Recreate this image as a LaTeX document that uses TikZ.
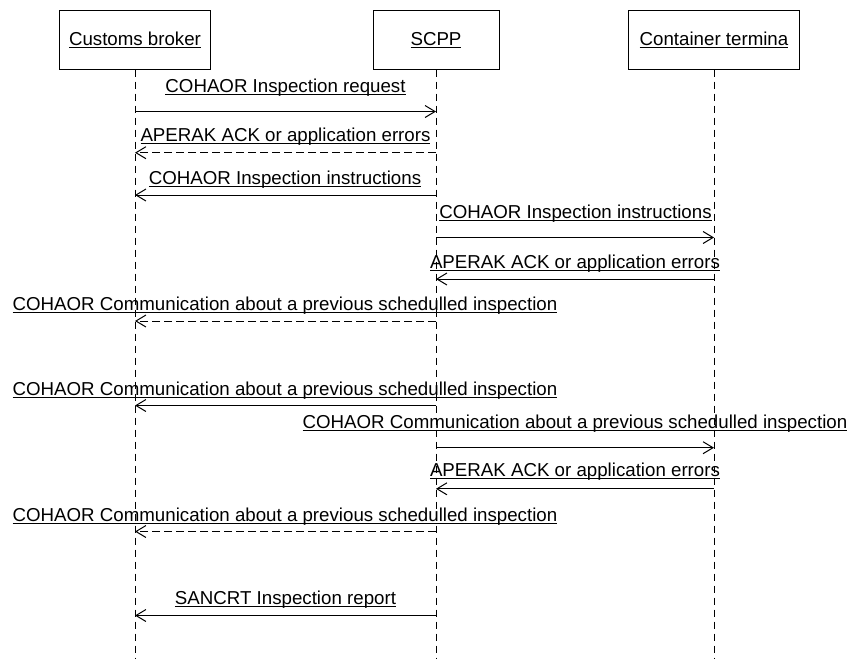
\documentclass[tikz,border=0pt]{standalone}
\usepackage{fontspec}
\setmainfont{Liberation Sans}
\usetikzlibrary{arrows.meta}
\newcommand{\ulx}[1]{{\setbox0\hbox{#1}\rlap{\rule[-2.9pt]{\wd0}{1.2pt}}\box0}}
\begin{document}
\begin{tikzpicture}[x=1pt,y=-1pt,line width=1pt,
  actorbox/.style={draw=black, fill=white, inner sep=0pt, minimum height=59pt},
  txt/.style={inner sep=0pt, anchor=base, font=\fontsize{18.7pt}{22pt}\selectfont},
  lifeline/.style={draw=black, line width=0.9pt, dash pattern=on 7pt off 5pt},
  msg/.style={draw=black, line width=1pt, -{Straight Barb[length=10pt,width=12pt,line width=1pt]}},
  reply/.style={msg, dash pattern=on 8pt off 4pt}]
\useasboundingbox (0,0) rectangle (849,659);
% actors
\node[actorbox, minimum width=151.4pt] (cb) at (135,39.5) {};
\node[actorbox, minimum width=126pt] (sc) at (436,39.5) {};
\node[actorbox, minimum width=171.7pt] (ct) at (714,39.5) {};
\node[txt] (cbt) at (135,45.2) {\ulx{Customs broker}};
\node[txt] (sct) at (436,45.2) {\ulx{SCPP}};
\node[txt] (ctt) at (714,45.2) {\ulx{Container termina}};
% lifelines
\coordinate (cbE) at (135,659);
\coordinate (scE) at (436,659);
\coordinate (ctE) at (714,659);
\draw[lifeline] (cb.south) -- (cbE);
\draw[lifeline] (sc.south) -- (scE);
\draw[lifeline] (ct.south) -- (ctE);
% message end points
\coordinate (L1) at (135,111.5); \coordinate (S1) at (436,111.5);
\coordinate (L2) at (135,152.7); \coordinate (S2) at (436,152.7);
\coordinate (L3) at (135,195);   \coordinate (S3) at (436,195);
\coordinate (S4) at (436,237.5); \coordinate (C4) at (714,237.5);
\coordinate (S5) at (436,279);   \coordinate (C5) at (714,279);
\coordinate (L6) at (135,321);   \coordinate (S6) at (436,321);
\coordinate (L7) at (135,405.5); \coordinate (S7) at (436,405.5);
\coordinate (S8) at (436,447.7); \coordinate (C8) at (714,447.7);
\coordinate (S9) at (436,488.8); \coordinate (C9) at (714,488.8);
\coordinate (L10) at (135,531.5);  \coordinate (S10) at (436,531.5);
\coordinate (L11) at (135,615.5);  \coordinate (S11) at (436,615.5);
% messages
\draw[msg] (L1) -- (S1);
\node[txt] (t1) at (285.5,92.5) {\ulx{COHAOR Inspection request}};
\draw[reply] (S2) -- (L2);
\node[txt] (t2) at (285.5,141.5) {\ulx{APERAK ACK or application errors}};
\draw[msg] (S3) -- (L3);
\node[txt] (t3) at (285,184.5) {\ulx{COHAOR Inspection instructions}};
\draw[msg] (S4) -- (C4);
\node[txt] (t4) at (575.5,218.5) {\ulx{COHAOR Inspection instructions}};
\draw[msg] (C5) -- (S5);
\node[txt] (t5) at (575,268.5) {\ulx{APERAK ACK or application errors}};
\draw[reply] (S6) -- (L6);
\node[txt] (t6) at (285,310.5) {\ulx{COHAOR Communication about a previous schedulled inspection}};
\draw[msg] (S7) -- (L7);
\node[txt] (t7) at (285,395.5) {\ulx{COHAOR Communication about a previous schedulled inspection}};
\draw[msg] (S8) -- (C8);
\node[txt] (t8) at (575,428.5) {\ulx{COHAOR Communication about a previous schedulled inspection}};
\draw[msg] (C9) -- (S9);
\node[txt] (t9) at (575,476.5) {\ulx{APERAK ACK or application errors}};
\draw[reply] (S10) -- (L10);
\node[txt] (t10) at (285,521.5) {\ulx{COHAOR Communication about a previous schedulled inspection}};
\draw[msg] (S11) -- (L11);
\node[txt] (t11) at (285.5,604.5) {\ulx{SANCRT Inspection report}};
\end{tikzpicture}
\end{document}
